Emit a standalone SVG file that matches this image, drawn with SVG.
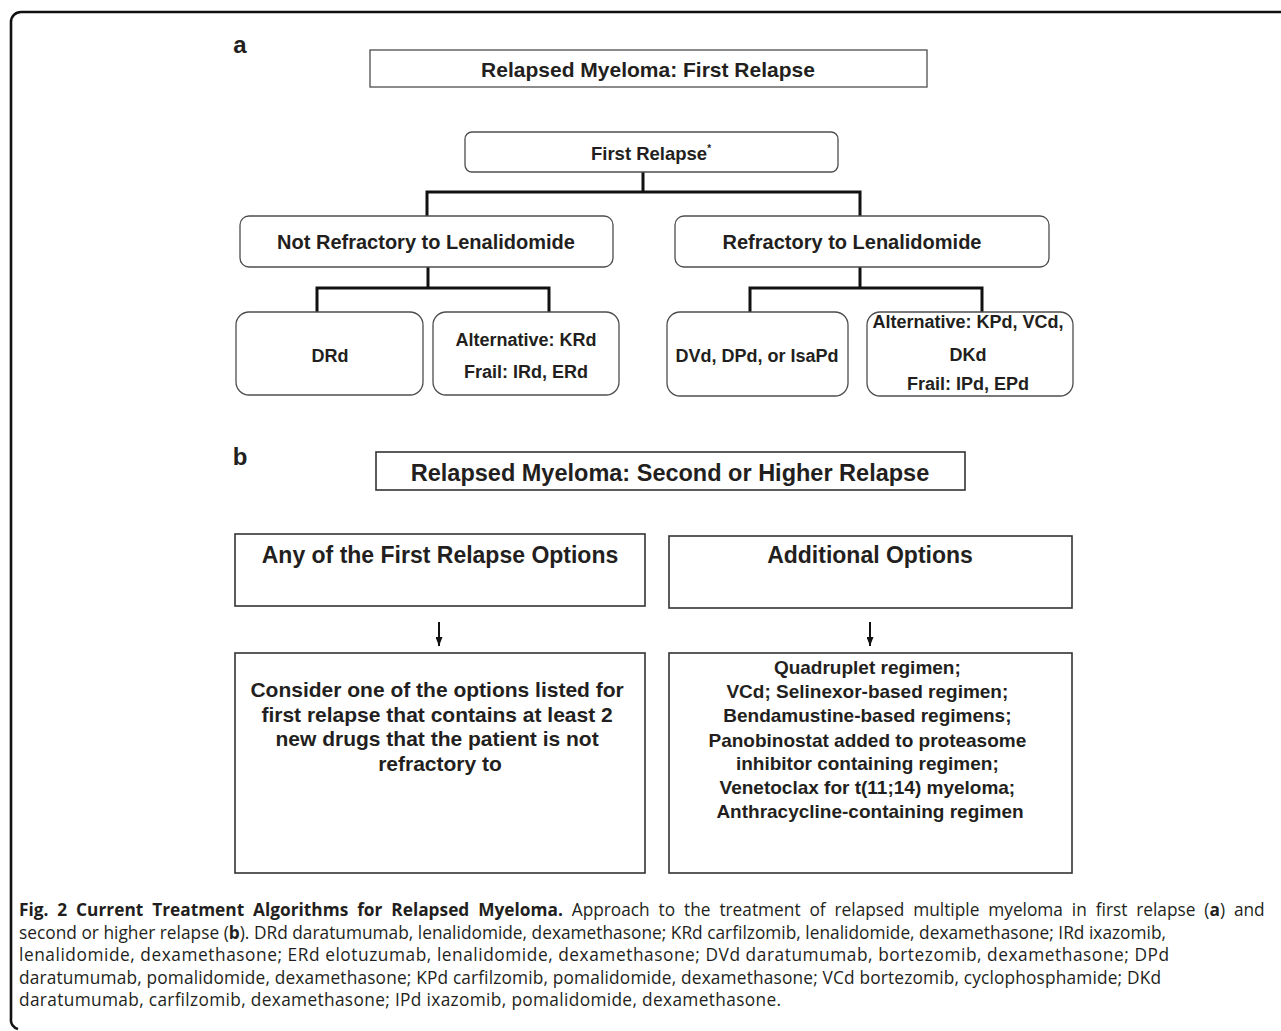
<svg xmlns="http://www.w3.org/2000/svg" width="1281" height="1031" viewBox="0 0 1281 1031">
<defs>
<style>
.t{font-family:"Liberation Sans",Arial,sans-serif;font-weight:bold;fill:#231f20;text-anchor:middle}
.ra{fill:#fff;stroke:#4d4d4d;stroke-width:1.3}
.rb{fill:#fff;stroke:#333;stroke-width:1.6}
.c{fill:none;stroke:#111;stroke-width:3}
.ar{stroke:#111;stroke-width:2;marker-end:url(#ah)}
.cap{font-family:"Open Sans","Noto Sans",sans-serif;font-size:17.3px;fill:#231f20}
</style>
<marker id="ah" markerWidth="9" markerHeight="7" refX="9" refY="3.5" orient="auto" markerUnits="userSpaceOnUse" viewBox="0 0 9 7">
<path d="M0,0 L9,3.5 L0,7 Z" fill="#111"/>
</marker>
</defs>
<rect width="1281" height="1031" fill="#fff"/>
<path d="M1281,12 H21 A10,10 0 0 0 11,22 V1019 A9,9 0 0 0 18,1029" fill="none" stroke="#111" stroke-width="2.6"/>

<text class="t" x="240" y="53" font-size="24">a</text>
<text class="t" x="240" y="465" font-size="24">b</text>

<g id="connectors">
<path class="c" d="M643,172 V192 M427,192 H860 M427,190.5 V216 M860,190.5 V216"/>
<path class="c" d="M428,267 V288 M317,288 H549 M317,286.5 V312 M549,286.5 V312"/>
<path class="c" d="M860,267 V288 M750,288 H982 M750,286.5 V312 M982,286.5 V312"/>
<line class="ar" x1="439" y1="622" x2="439" y2="646"/>
<line class="ar" x1="870" y1="622" x2="870" y2="646"/>
</g>

<g id="title-a">
<rect class="ra" x="370" y="50" width="557" height="37"/>
<text class="t" x="648" y="77" font-size="21">Relapsed Myeloma: First Relapse</text>
</g>
<g id="first-relapse">
<rect class="ra" x="465" y="132" width="373" height="40" rx="7"/>
<text class="t" x="651" y="160" font-size="18.5">First Relapse<tspan font-size="10" dy="-8">*</tspan></text>
</g>
<g id="not-refractory">
<rect class="ra" x="240" y="216" width="373" height="51" rx="9"/>
<text class="t" x="426" y="249" font-size="20">Not Refractory to Lenalidomide</text>
</g>
<g id="refractory">
<rect class="ra" x="675" y="216" width="374" height="51" rx="9"/>
<text class="t" x="852" y="249" font-size="20">Refractory to Lenalidomide</text>
</g>
<g id="drd">
<rect class="ra" x="236" y="312" width="187" height="83" rx="13"/>
<text class="t" x="330" y="362" font-size="18">DRd</text>
</g>
<g id="krd">
<rect class="ra" x="433" y="312" width="186" height="83" rx="13"/>
<text class="t" x="526" y="345.5" font-size="18">Alternative: KRd</text>
<text class="t" x="526" y="377.5" font-size="18">Frail: IRd, ERd</text>
</g>
<g id="dvd">
<rect class="ra" x="667" y="312" width="181" height="84" rx="13"/>
<text class="t" x="757" y="362" font-size="18">DVd, DPd, or IsaPd</text>
</g>
<g id="kpd">
<rect class="ra" x="867" y="312" width="206" height="84" rx="13"/>
<text class="t" x="968" y="328" font-size="18">Alternative: KPd, VCd,</text>
<text class="t" x="968" y="361" font-size="18">DKd</text>
<text class="t" x="968" y="390" font-size="18">Frail: IPd, EPd</text>
</g>

<g id="title-b">
<rect class="rb" x="376" y="452" width="589" height="38"/>
<text class="t" x="670" y="481" font-size="23.5">Relapsed Myeloma: Second or Higher Relapse</text>
</g>
<g id="any-first">
<rect class="rb" x="235" y="534" width="410" height="72"/>
<text class="t" x="440" y="563" font-size="23">Any of the First Relapse Options</text>
</g>
<g id="additional">
<rect class="rb" x="669" y="536" width="403" height="72"/>
<text class="t" x="870" y="563" font-size="23">Additional Options</text>
</g>
<g id="consider">
<rect class="rb" x="235" y="653" width="410" height="220"/>
<text class="t" font-size="21">
<tspan x="440" y="697">Consider one of the options listed for</tspan>
<tspan x="440" y="721.5">first relapse that contains at least 2</tspan>
<tspan x="440" y="746">new drugs that the patient is not</tspan>
<tspan x="440" y="770.5">refractory to</tspan>
</text>
</g>
<g id="options">
<rect class="rb" x="669" y="653" width="403" height="220"/>
<text class="t" font-size="19">
<tspan x="870" y="674">Quadruplet regimen;</tspan>
<tspan x="870" y="698">VCd; Selinexor-based regimen;</tspan>
<tspan x="870" y="722">Bendamustine-based regimens;</tspan>
<tspan x="870" y="746.5">Panobinostat added to proteasome</tspan>
<tspan x="870" y="770">inhibitor containing regimen;</tspan>
<tspan x="870" y="794">Venetoclax for t(11;14) myeloma;</tspan>
<tspan x="870" y="818">Anthracycline-containing regimen</tspan>
</text>
</g>

<g id="caption">
<text class="cap" x="19" y="916" word-spacing="4.4"><tspan font-weight="bold">Fig. 2 Current Treatment Algorithms for Relapsed Myeloma.</tspan> Approach to the treatment of relapsed multiple myeloma in first relapse (<tspan font-weight="bold">a</tspan>) and</text>
<text class="cap" x="19" y="939" textLength="1147" lengthAdjust="spacing">second or higher relapse (<tspan font-weight="bold">b</tspan>). DRd daratumumab, lenalidomide, dexamethasone; KRd carfilzomib, lenalidomide, dexamethasone; IRd ixazomib,</text>
<text class="cap" x="19" y="961" textLength="1150" lengthAdjust="spacing">lenalidomide, dexamethasone; ERd elotuzumab, lenalidomide, dexamethasone; DVd daratumumab, bortezomib, dexamethasone; DPd</text>
<text class="cap" x="19" y="984" textLength="1142" lengthAdjust="spacing">daratumumab, pomalidomide, dexamethasone; KPd carfilzomib, pomalidomide, dexamethasone; VCd bortezomib, cyclophosphamide; DKd</text>
<text class="cap" x="19" y="1006" textLength="762" lengthAdjust="spacing">daratumumab, carfilzomib, dexamethasone; IPd ixazomib, pomalidomide, dexamethasone.</text>
</g>
</svg>
